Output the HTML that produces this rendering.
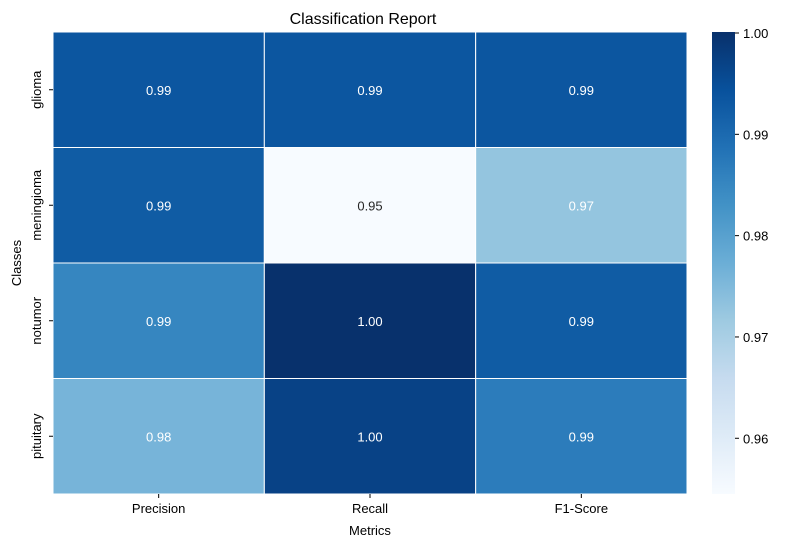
<!DOCTYPE html>
<html><head><meta charset="utf-8"><style>
body{margin:0;background:#fff;}
svg text{font-family:"Liberation Sans","DejaVu Sans",sans-serif;}
</style></head><body>
<svg id="chart" width="785" height="547" xmlns="http://www.w3.org/2000/svg">
<defs><linearGradient id="cbgrad" x1="0" y1="1" x2="0" y2="0"></linearGradient></defs>
<text x="363" y="24" font-size="16" text-anchor="middle" fill="#000">Classification Report</text>
<g id="cells"></g><g id="xt"></g><g id="yt"></g><g id="cb"></g>
<text x="370" y="535" font-size="13" text-anchor="middle">Metrics</text>
<text transform="translate(21,263) rotate(-90)" font-size="13" text-anchor="middle">Classes</text>
</svg>
<script>
const classes=["glioma","meningioma","notumor","pituitary"];
const metrics=["Precision","Recall","F1-Score"];
const values=[[0.9935,0.9935,0.9935],[0.9925,0.9545,0.9727],[0.985,1.0,0.9925],[0.976,0.997,0.9868]];
const labels=[["0.99","0.99","0.99"],["0.99","0.95","0.97"],["0.99","1.00","0.99"],["0.98","1.00","0.99"]];
const cbTicks=[0.96,0.97,0.98,0.99,1.00];
const vmin=0.9545,vmax=1.0001;
const X0=53,X1=687,Y0=32,Y1=494;
const stops=["#f7fbff","#deebf7","#c6dbef","#9ecae1","#6baed6","#4292c6","#2171b5","#08519c","#08306b"];
function hex(h){return [1,3,5].map(i=>parseInt(h.substr(i,2),16));}
function cmap(t){t=Math.max(0,Math.min(1,t));const p=t*8,i=Math.min(7,Math.floor(p)),f=p-i;const a=hex(stops[i]),b=hex(stops[i+1]);return "rgb("+a.map((v,k)=>Math.round(v+(b[k]-v)*f)).join(",")+")";}
function norm(v){return (v-vmin)/(vmax-vmin);}
const cw=(X1-X0)/metrics.length,ch=(Y1-Y0)/classes.length;
const NS="http://www.w3.org/2000/svg";
function mk(tag,attrs,parent){const e=document.createElementNS(NS,tag);for(const k in attrs)e.setAttribute(k,attrs[k]);parent.appendChild(e);return e;}
const cells=document.getElementById("cells");
classes.forEach((c,r)=>metrics.forEach((m,j)=>{
 const v=values[r][j];
 const rect=mk("rect",{x:X0+j*cw,y:Y0+r*ch,width:cw,height:ch,fill:cmap(norm(v)),stroke:"#fff","stroke-width":1},cells);
 
 
 const t=mk("text",{x:X0+(j+0.5)*cw,y:Y0+(r+0.5)*ch+5,"font-size":13,"text-anchor":"middle",fill:norm(v)>0.25?"#fff":"#262626"},cells);
 t.textContent=labels[r][j];
 
 
}));
const xt=document.getElementById("xt");
metrics.forEach((m,j)=>{const x=X0+(j+0.5)*cw;
 mk("line",{x1:x,x2:x,y1:Y1,y2:Y1+4,stroke:"#000"},xt);
 const t=mk("text",{x:x,y:Y1+19,"font-size":13,"text-anchor":"middle"},xt);t.textContent=m;
 
 });
const yt=document.getElementById("yt");
classes.forEach((c,r)=>{const y=Y0+(r+0.5)*ch;
 mk("line",{x1:X0-4,x2:X0,y1:y,y2:y,stroke:"#000"},yt);
 const t=mk("text",{transform:"translate(41,"+y+") rotate(-90)","font-size":13,"text-anchor":"middle"},yt);t.textContent=c;
 
 });
const g=document.getElementById("cbgrad");
for(let i=0;i<=16;i++)mk("stop",{offset:i/16,"stop-color":cmap(i/16)},g);
const cb=document.getElementById("cb");
const bar=mk("rect",{x:712,y:Y0,width:23,height:Y1-Y0,fill:"url(#cbgrad)"},cb);


cbTicks.forEach(v=>{const y=Y1-norm(v)*(Y1-Y0);
 mk("line",{x1:735,x2:739,y1:y,y2:y,stroke:"#000"},cb);
 const t=mk("text",{x:743,y:y+5,"font-size":13},cb);t.textContent=v.toFixed(2);
 
 });
</script>
</body></html>
